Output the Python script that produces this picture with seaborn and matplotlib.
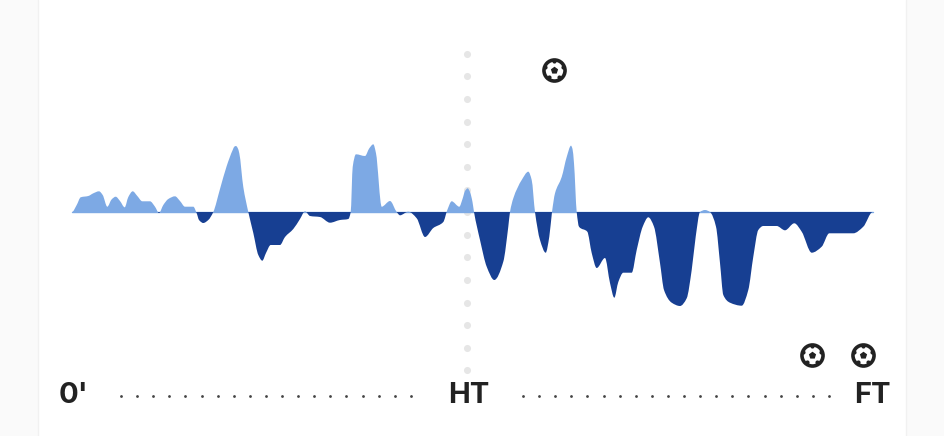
import numpy as np
import pandas as pd
import matplotlib
matplotlib.use("Agg")
import matplotlib.pyplot as plt
from matplotlib.path import Path
from matplotlib.patches import PathPatch, Rectangle
import seaborn as sns

# match clock in chart units: 0' = 0, HT = 395, FT = 801
match_time = [0, 4.7, 8.7, 16.3, 21.3, 27, 30.7, 35.3, 39.7, 43.7, 48, 52.7, 56.3, 60.7, 65.3, 70.3, 78, 83, 87, 91.3,
              96.3, 103, 108, 113, 121.3, 124.7, 127, 131.3, 136.3, 141.3, 148, 154.7, 160.7, 162.5, 164, 165.7, 167.3, 171.3, 176.3,
              181.3, 186.3, 190.3, 194, 198.7, 208, 213, 221.3, 228, 233, 238, 248, 258, 268, 276.3, 278.7, 280.7, 284,
              293, 297.3, 301.3, 304, 309.7, 318, 324.7, 328, 336.3, 344.7, 353, 361.3, 371.3, 375.3, 379.7, 387.3,
              390.5, 393, 395.7, 398, 400.5, 402, 408, 414.7, 422.3, 431.3, 436.3, 438, 441.3, 449.7, 456.3, 459.7, 463, 468, 473.7,
              477.3, 480, 483, 489.7, 494.7, 499, 500.5, 502, 504.7, 507, 515.3, 519.7, 524.7, 533, 538, 542.3, 546.3, 551.3,
              559.7, 564.7, 570.7, 576.3, 582, 588, 592, 599.7, 608, 614.7, 619.7, 623.7, 628, 633, 638, 644, 648,
              651.3, 658, 669.7, 676.3, 681.3, 686.3, 691.3, 704.7, 713, 722.3, 729.7, 739.7, 749.7, 757.3, 781.3,
              791.3, 800.7]
momentum = [0, 7, 14.7, 16, 18.7, 20.7, 17, 5.3, 12.7, 15.3, 11, 4.7, 15, 20.7, 16, 10.7, 10.7, 5.3, -1, 7,
            13, 15.7, 11, 5.3, 5.3, -1.3, -8, -11, -8, 0, 23, 46, 62, 65.5, 66, 64, 58.7, 25, 0,
            -21, -43, -48.7, -41, -33, -33, -25, -17, -7, 0.7, -4, -5, -10.7, -8, -7, 0, 45, 57.7,
            56, 63.7, 67.7, 58.7, 5.3, 11, 0, -3.3, 0.3, -6.3, -25, -16, -10, 2, 10.7, 5.3,
            13, 21, 23.7, 20, 10, 0, -28, -54.7, -68, -49.7, -14.7, 0, 13.7, 32, 40.3, 32, 0, -28, -40.7,
            -24.7, 0, 18.7, 35, 55, 66.3, 63, 48.7, 0, -14.7, -19.7, -41, -56, -46, -71, -85.7, -70, -60.7,
            -60.7, -38, -14.7, -5.3, -14.7, -51, -78, -90.7, -94, -86.3, -58, -24.7, 0, 2, 0, -14.7, -51,
            -83, -90.7, -93.7, -78, -44.7, -18, -14, -14, -18.3, -11.3, -19.7, -40.7, -34.7, -21.3, -21.3,
            -14.7, 0]

goal_time = [482, 740, 791]
goal_height = [142, -143, -143]

period_labels = ["0'", "HT", "FT"]
period_time = [1, 396.5, 800.5]

LIGHT = "#7DA9E4"
DARK = "#173F92"
INK = "#222222"


def area_path(x, y):
    # curved outline like a monotone line chart, closed along the zero line
    x = np.asarray(x, float)
    y = np.asarray(y, float)
    h = np.diff(x)
    s = np.diff(y) / h
    m = np.zeros(len(x))
    for i in range(1, len(x) - 1):
        if s[i - 1] * s[i] > 0:
            w1 = 2 * h[i] + h[i - 1]
            w2 = h[i] + 2 * h[i - 1]
            m[i] = (w1 + w2) / (w1 / s[i - 1] + w2 / s[i])
    verts = [(x[0], 0), (x[0], y[0])]
    codes = [Path.MOVETO, Path.LINETO]
    for i in range(len(x) - 1):
        verts += [(x[i] + h[i] / 3, y[i] + m[i] * h[i] / 3),
                  (x[i + 1] - h[i] / 3, y[i + 1] - m[i + 1] * h[i] / 3),
                  (x[i + 1], y[i + 1])]
        codes += [Path.CURVE4] * 3
    verts += [(x[-1], 0), (x[0], 0)]
    codes += [Path.LINETO, Path.CLOSEPOLY]
    return Path(verts, codes)


df = pd.DataFrame({"time": match_time, "momentum": momentum})
df["zero"] = 0

sns.set_theme(style="white")
plt.rcParams["font.family"] = ["Inter", "DejaVu Sans"]

fig = plt.figure(figsize=(9.45, 4.36), dpi=100)
ax = fig.add_axes([0, 0, 1, 1])
fig.patch.set_facecolor("#FAFAFA")

# white card behind everything
ax.axvspan(-34, 834, color="white", zorder=0)
ax.axvline(-34, color="#F1F1F1", lw=1, zorder=0)
ax.axvline(834, color="#F1F1F1", lw=1, zorder=0)

# dotted half time line
ht_y = 158.1 - 22.6 * np.arange(15)
ax.scatter(np.full(15, 395), ht_y, s=26, color="#E6E6E6", linewidths=0, zorder=1)

# momentum areas, same curve cut at zero for each side
sns.lineplot(data=df, x="time", y="zero", color=LIGHT, lw=1, estimator=None, ax=ax, zorder=1.5)
curve = area_path(df["time"], df["momentum"])
upper = ax.add_patch(PathPatch(curve, facecolor=LIGHT, lw=0, zorder=2))
upper.set_clip_path(Rectangle((-72, 0), 945, 212, transform=ax.transData))
lower = ax.add_patch(PathPatch(curve, facecolor=DARK, lw=0, zorder=2))
lower.set_clip_path(Rectangle((-72, -224), 945, 224, transform=ax.transData))

# dotted time axis
axis_dots = np.r_[49 + 16.1 * np.arange(19), 451 + 16.1 * np.arange(20)]
ax.scatter(axis_dots, np.full(len(axis_dots), -184), s=4, color="#444444", linewidths=0, zorder=2)

for label, t in zip(period_labels, period_time):
    ax.text(t, -183.5, label, ha="center", va="center", fontsize=21, fontweight="bold", color=INK)

# goal icons
sns.scatterplot(x=goal_time, y=goal_height, s=230, marker="o", facecolor="white", edgecolor=INK, linewidth=2.6, ax=ax, zorder=5)
sns.scatterplot(x=goal_time, y=goal_height, s=30, marker="p", color=INK, linewidth=0, ax=ax, zorder=6)
angles = np.deg2rad(90 + 72 * np.arange(5))
for gx, gy in zip(goal_time, goal_height):
    ax.scatter(gx + 9 * np.cos(angles), gy + 9 * np.sin(angles), s=9, color=INK, linewidths=0, zorder=6)

ax.set_xlim(-72, 873)
ax.set_ylim(-224, 212)
ax.axis("off")
fig.savefig("out.png", dpi=100, facecolor=fig.get_facecolor())
